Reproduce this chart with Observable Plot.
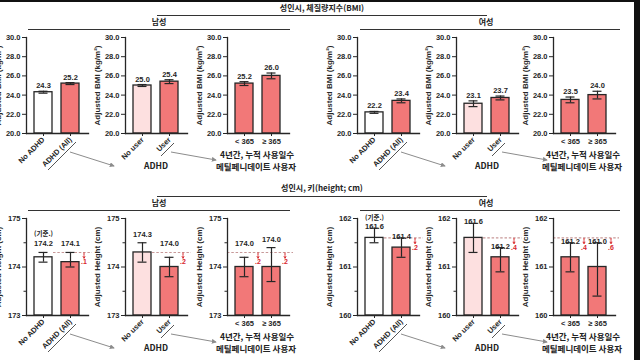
<!DOCTYPE html>
<html><head><meta charset="utf-8">
<script src="https://cdn.jsdelivr.net/npm/d3@7"></script>
<script src="https://cdn.jsdelivr.net/npm/@observablehq/plot@0.6"></script>
<style>
body{margin:0;background:#fff;}
#root{position:relative;width:640px;height:360px;overflow:hidden;background:#fff;}
.t{position:absolute;transform:translate(-50%,-50%);white-space:nowrap;font-weight:bold;color:#222;font-family:"Noto Sans CJK KR","Liberation Sans",sans-serif;line-height:1;}
.hl{position:absolute;height:0;border-top:1.3px solid #333;}
.pn{position:absolute;}
.pn svg{overflow:visible;display:block;}
</style></head><body><div id="root"></div>
<script>
// ---------- data ----------
const cats1 = ["No ADHD", "ADHD (All)"];
const cats2 = ["No user", "User"];
const cats3 = ["< 365", "≥ 365"];

const bmiMale      = [24.3, 25.2, 25.0, 25.4, 25.2, 26.0];
const bmiMaleErr   = [0.1, 0.1, 0.1, 0.2, 0.2, 0.3];
const bmiFemale    = [22.2, 23.4, 23.1, 23.7, 23.5, 24.0];
const bmiFemaleErr = [0.1, 0.2, 0.3, 0.2, 0.3, 0.4];

const htMale     = [174.2, 174.1, 174.3, 174.0, 174.0, 174.0];
const htMaleLo   = [174.1, 174.0, 174.1, 173.8, 173.8, 173.7];
const htMaleHi   = [174.3, 174.3, 174.5, 174.2, 174.2, 174.4];
const htFemale   = [161.6, 161.4, 161.6, 161.2, 161.2, 161.0];
const htFemaleLo = [161.5, 161.2, 161.3, 160.9, 160.9, 160.4];
const htFemaleHi = [161.8, 161.6, 161.9, 161.4, 161.5, 161.5];
const htDiffMale   = [null, ".1", null, ".2", ".2", ".2"];
const htDiffFemale = [null, ".2", null, ".4", ".4", ".6"];
const refMale = 174.3, refFemale = 161.6;

const bmiDomain = [20, 30];
const bmiTicks = [20, 22, 24, 26, 28, 30];
const htMaleDomain = [173, 175];
const htMaleTicks = [173, 174, 175];
const htMaleMinor = [173.5, 174.5];
const htFemaleDomain = [160, 162];
const htFemaleTicks = [160, 161, 162];
const htFemaleMinor = [160.5, 161.5];

const titleBMI = "성인시, 체질량지수(BMI)";
const titleHt = "성인시, 키(height; cm)";
const sexLabels = ["남성", "여성"];
const groupADHD = "ADHD";
const groupDays = ["4년간, 누적 사용일수", "메틸페니데이트 사용자"];
const baseLabel = "(기준.)";
const yLabelBMI = "Adjusted BMI (kg/m²)";
const yLabelHt = "Adjusted Height (cm)";

// ---------- style / layout ----------
const RED = "#f27878", PALE = "#fde0e0", WHITE = "#ffffff", INK = "#262626";
const ANNO = "#d8282d", REFC = "#c79898", GRAY = "#8c8c8c";
const fillOf = c => c === "No ADHD" ? WHITE : c === "No user" ? PALE : RED;
const FONT = '"Liberation Sans", Arial, sans-serif';
const ML = 44, MR = 18, MT = 26, MB = 44, FW = 62;
const axesX = {male: [26, 125, 227], female: [357, 456, 553]};
const rowBMI = {top: 37, bottom: 133};
const rowHt = {top: 218, bottom: 315};

const root = document.getElementById("root");

function panel(o) {
  const data = o.cats.map((c, i) => ({cat: c, v: o.vals[i], lo: o.lo[i], hi: o.hi[i], diff: o.diffs ? o.diffs[i] : null}));
  const FH = o.bottom - o.top;
  const marks = [];
  if (o.ref != null) {
    marks.push(Plot.ruleY([o.ref], {stroke: REFC, strokeWidth: 1.1, strokeDasharray: "2.5,1.8",
      insetLeft: o.cats[0].startsWith("No") ? 27 : 0, insetRight: -4}));
  }
  marks.push(Plot.barY(data, {x: "cat", y1: o.domain[0], y2: "v", fill: d => fillOf(d.cat), stroke: INK, strokeWidth: 1.3}));
  marks.push(Plot.ruleX(data, {x: "cat", y1: "lo", y2: "hi", stroke: INK, strokeWidth: 1.2}));
  marks.push(Plot.tickY(data, {x: "cat", y: "hi", stroke: INK, strokeWidth: 1.2, inset: 4.5}));
  marks.push(Plot.tickY(data, {x: "cat", y: "lo", stroke: INK, strokeWidth: 1.2, inset: 4.5}));
  const ly = d => o.labelAtRef ? Math.max(d.hi, o.ref) : d.hi;
  marks.push(Plot.text(data, {x: "cat", y: ly, text: d => d.v.toFixed(1), dy: o.labelDy, lineAnchor: "bottom", fontSize: 7.5, fill: INK}));
  if (o.base) {
    marks.push(Plot.text([data[0]], {x: "cat", y: ly, text: () => o.base, dy: o.labelDy + o.baseDy, lineAnchor: "bottom", fontSize: 6.5, fill: INK,
      fontFamily: '"Noto Sans CJK KR", sans-serif'}));
  }
  if (o.diffs) {
    const dd = data.filter(d => d.diff);
    marks.push(Plot.arrow(dd, {x1: "cat", x2: "cat", y1: () => o.ref - 0.01, y2: () => o.ref - 0.12, dx: 13.5,
      stroke: ANNO, strokeWidth: 1, headLength: 3, strokeDasharray: "2,1"}));
    marks.push(Plot.text(dd, {x: "cat", y: () => o.ref - 0.12, text: "diff", dx: 13.5, dy: 1, lineAnchor: "top", fontSize: 7, fill: ANNO}));
  }
  marks.push(Plot.frame({anchor: "left", stroke: INK, strokeWidth: 1.3}));
  marks.push(Plot.frame({anchor: "bottom", stroke: INK, strokeWidth: 1.3}));
  marks.push(Plot.axisY({ticks: o.ticks, tickFormat: o.fmt, tickSize: 4, tickPadding: 2, label: null, fontSize: 7.5}));
  if (o.minor) marks.push(Plot.axisY({ticks: o.minor, tickFormat: () => "", tickSize: 2.5, label: null}));
  marks.push(Plot.axisX({tickSize: 3, tickPadding: 2, tickRotate: o.rotate ? -45 : 0, label: null, fontSize: 7.5}));
  marks.push(Plot.text([o.ylabel], {frameAnchor: "left", textAnchor: "middle", lineAnchor: "middle", rotate: -90, dx: -28, fontSize: 8, fill: INK}));

  const svg = Plot.plot({
    width: ML + FW + MR, height: MT + FH + MB,
    marginLeft: ML, marginRight: MR, marginTop: MT, marginBottom: MB,
    style: {fontFamily: FONT, fontWeight: "bold", fontSize: "7.5px", color: INK, background: "transparent", overflow: "visible"},
    x: {type: "band", domain: o.cats, paddingInner: 0.32, paddingOuter: 0.27},
    y: {domain: o.domain},
    color: {type: "identity"},
    marks
  });
  const div = document.createElement("div");
  div.className = "pn";
  div.style.left = (o.ax - ML) + "px";
  div.style.top = (o.top - MT) + "px";
  div.appendChild(svg);
  root.appendChild(div);
}

const groups = [cats1, cats2, cats3];
function rowPanels(row, sex, vals, lo, hi, domain, ticks, minor, fmt, ylabel, ref, diffs, labelAtRef, labelDy, baseDy) {
  groups.forEach((cats, g) => {
    const s = g * 2;
    panel({
      ax: axesX[sex][g], top: row.top, bottom: row.bottom, cats,
      vals: vals.slice(s, s + 2), lo: lo.slice(s, s + 2), hi: hi.slice(s, s + 2),
      domain, ticks, minor, fmt, ylabel, rotate: g < 2,
      ref, diffs: diffs ? diffs.slice(s, s + 2) : null,
      base: (ref != null && g === 0) ? baseLabel : null, labelAtRef, labelDy, baseDy
    });
  });
}

const f1 = d3.format(".1f");
const sub = (a, b) => a.map((v, i) => +(v - b[i]).toFixed(2));
const add = (a, b) => a.map((v, i) => +(v + b[i]).toFixed(2));
rowPanels(rowBMI, "male", bmiMale, sub(bmiMale, bmiMaleErr), add(bmiMale, bmiMaleErr), bmiDomain, bmiTicks, null, f1, yLabelBMI, null, null, false, -3, 0);
rowPanels(rowBMI, "female", bmiFemale, sub(bmiFemale, bmiFemaleErr), add(bmiFemale, bmiFemaleErr), bmiDomain, bmiTicks, null, f1, yLabelBMI, null, null, false, -3, 0);
rowPanels(rowHt, "male", htMale, htMaleLo, htMaleHi, htMaleDomain, htMaleTicks, htMaleMinor, d3.format("d"), yLabelHt, refMale, htDiffMale, true, -6, -10);
rowPanels(rowHt, "female", htFemale, htFemaleLo, htFemaleHi, htFemaleDomain, htFemaleTicks, htFemaleMinor, d3.format("d"), yLabelHt, refFemale, htDiffFemale, false, 1, -9.5);

// ---------- headers & group labels ----------
function text(str, x, y, size) {
  const d = document.createElement("div");
  d.className = "t"; d.textContent = str;
  d.style.left = x + "px"; d.style.top = y + "px"; d.style.fontSize = size + "px";
  root.appendChild(d);
}
function hline(x1, x2, y) {
  const d = document.createElement("div");
  d.className = "hl"; d.style.left = x1 + "px"; d.style.width = (x2 - x1) + "px"; d.style.top = y + "px";
  root.appendChild(d);
}
[[rowBMI, titleBMI, 8, 15, 22, 29], [rowHt, titleHt, 188, 196, 203, 210]].forEach(([row, title, ty, tl, sy, sl]) => {
  text(title, 322, ty, 8); hline(157, 487, tl);
  text(sexLabels[0], 159, sy, 8); hline(28, 290, sl);
  text(sexLabels[1], 486, sy, 8); hline(360, 620, sl);
  const fb = row.bottom;
  ["male", "female"].forEach(sex => {
    const ax = axesX[sex];
    text(groupADHD, ax[1] + 31, fb + 32, 8.5);
    text(groupDays[0], ax[2] + 30, fb + 21, 8.5);
    text(groupDays[1], ax[2] + 29, fb + 33, 8.5);
  });
});

// connector arrows (overlay)
const ns = "http://www.w3.org/2000/svg";
const ov = document.createElementNS(ns, "svg");
ov.setAttribute("width", 640); ov.setAttribute("height", 360);
ov.style.position = "absolute"; ov.style.left = "0"; ov.style.top = "0";
ov.innerHTML = `<defs><marker id="ah" viewBox="0 0 6 6" refX="5" refY="3" markerWidth="5" markerHeight="5" orient="auto"><path d="M0,0L6,3L0,6z" fill="${GRAY}"/></marker></defs>`;
function seg(x1, y1, x2, y2, head, color) {
  const l = document.createElementNS(ns, "line");
  l.setAttribute("x1", x1); l.setAttribute("y1", y1); l.setAttribute("x2", x2); l.setAttribute("y2", y2);
  l.setAttribute("stroke", color); l.setAttribute("stroke-width", 1);
  if (head) l.setAttribute("marker-end", "url(#ah)");
  ov.appendChild(l);
}
[rowBMI, rowHt].forEach(row => {
  const fb = row.bottom;
  ["male", "female"].forEach(sex => {
    const ax = axesX[sex];
    seg(ax[0] + 22, fb + 37, ax[0] + 50, fb + 9, false, "#555");
    seg(ax[0] + 44, fb + 19, ax[0] + 88, fb + 33, true, GRAY);
    seg(ax[1] + 36, fb + 23, ax[1] + 49, fb + 10, false, "#555");
    seg(ax[1] + 46, fb + 19, ax[1] + 91, fb + 27, true, GRAY);
  });
});
root.appendChild(ov);

// frame edges of the photo
const topBar = document.createElement("div");
topBar.style.cssText = "position:absolute;left:0;top:0;width:640px;height:2px;background:#111;";
root.appendChild(topBar);
const rightBar = document.createElement("div");
rightBar.style.cssText = "position:absolute;left:634px;top:0;width:6px;height:360px;background:#111;";
root.appendChild(rightBar);
</script></body></html>
